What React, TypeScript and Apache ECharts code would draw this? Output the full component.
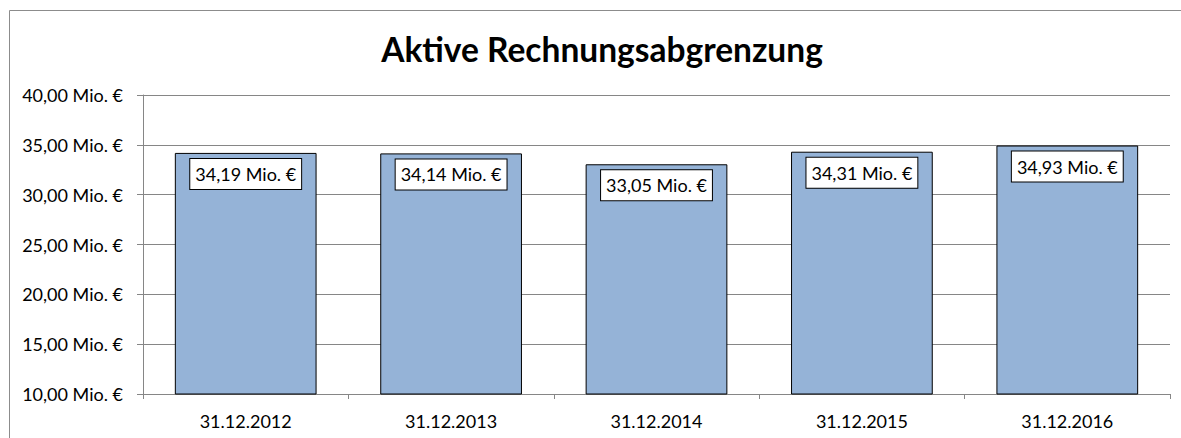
import React, { useEffect, useRef } from "react";
import * as echarts from "echarts";

const categories = ["31.12.2012", "31.12.2013", "31.12.2014", "31.12.2015", "31.12.2016"];
const values = [34.19, 34.14, 33.05, 34.31, 34.93];
const yMin = 10;
const yMax = 40;
const yStep = 5;
const titleText = "Aktive Rechnungsabgrenzung";

const fmt = (v: number) => v.toFixed(2).replace(".", ",") + " Mio. €";
const FONT = "Lato";

export default function App() {
  const ref = useRef<HTMLDivElement>(null);
  useEffect(() => {
    if (!ref.current) return;
    const chart = echarts.init(ref.current, null, { renderer: "svg" });
    chart.setOption({
      animation: false,
      backgroundColor: "#ffffff",
      title: {
        text: titleText,
        left: 597,
        textAlign: "center",
        top: 27,
        textStyle: { fontFamily: FONT, fontSize: 33.5, fontWeight: "bold", color: "#000" },
      },
      graphic: [
        {
          type: "line",
          shape: { x1: 9.5, y1: 10.5, x2: 1181, y2: 10.5 },
          style: { stroke: "#8c8c8c", lineWidth: 1 },
          silent: true,
        },
        {
          type: "line",
          shape: { x1: 9.5, y1: 10.5, x2: 9.5, y2: 438 },
          style: { stroke: "#8c8c8c", lineWidth: 1 },
          silent: true,
        },
      ],
      grid: { left: 143, right: 11, top: 95, bottom: 44, containLabel: false },
      xAxis: {
        type: "category",
        data: categories,
        axisLine: { show: true, lineStyle: { color: "#868686", width: 1 } },
        axisTick: { show: true, length: 5, alignWithLabel: false, lineStyle: { color: "#868686" } },
        axisLabel: { fontFamily: FONT, fontSize: 18, color: "#000", margin: 18 },
      },
      yAxis: {
        type: "value",
        min: yMin,
        max: yMax,
        interval: yStep,
        axisLine: { show: true, lineStyle: { color: "#868686", width: 1 } },
        axisTick: { show: true, length: 6, lineStyle: { color: "#868686" } },
        splitLine: { show: true, lineStyle: { color: "#868686", width: 1 } },
        axisLabel: { fontFamily: FONT, fontSize: 18, color: "#000", margin: 20, formatter: (v: number) => fmt(v) },
      },
      series: [
        {
          type: "bar",
          data: values,
          barCategoryGap: "31%",
          itemStyle: { color: "#95b3d7", borderColor: "#000", borderWidth: 1 },
          label: {
            show: true,
            position: "insideTop",
            distance: 6,
            formatter: (p: any) => fmt(p.value),
            fontFamily: FONT,
            fontSize: 18,
            color: "#000",
            backgroundColor: "#fff",
            borderColor: "#000",
            borderWidth: 1,
            padding: [5, 5, 5, 5],
            lineHeight: 20,
          },
        },
      ],
    });
    return () => chart.dispose();
  }, []);
  return (
    <div
      ref={ref}
      style={{ position: "fixed", left: 0, top: 0, width: 1181, height: 438 }}
    />
  );
}
